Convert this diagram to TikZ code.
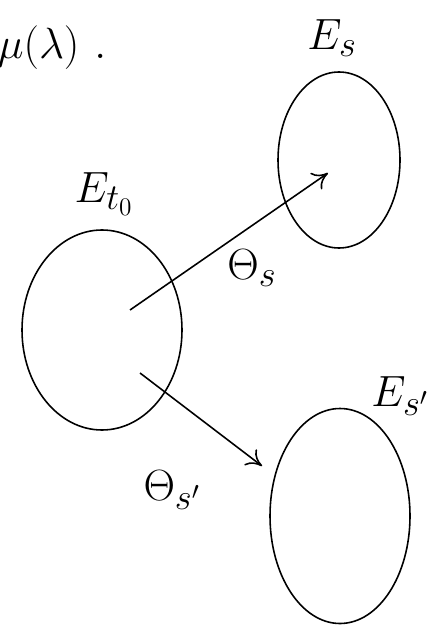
\documentclass[tikz,border=0pt]{standalone}
\usepackage{tikz}
\usetikzlibrary{shapes.geometric, arrows.meta}

\begin{document}
\begin{tikzpicture}[x=0.02cm, y=-0.02cm, line width=0.9pt,
        lbl/.style={font=\fontsize{28}{32}\selectfont},
        blob/.style={ellipse, draw, inner sep=0pt}]
            \useasboundingbox (0,0) rectangle (439,631);

            \node[lbl] (mu) at (52,48) {$\mu(\lambda)\ .$};
            \node[lbl] (Es) at (332,38) {$E_s$};
            \node[lbl] (Et0) at (104,194) {$E_{t_0}$};
            \node[lbl] (Essp) at (400,396) {$E_{s'}$};

            \node[blob, minimum width=122*0.02cm, minimum height=176*0.02cm] (0) at (339,160) {};
            \node[blob, minimum width=160*0.02cm, minimum height=200*0.02cm] (1) at (102,330) {};
            \node[blob, minimum width=140*0.02cm, minimum height=215*0.02cm] (2) at (340,516) {};

            \coordinate (a) at (130,310);
            \coordinate (b) at (328,173);
            \coordinate (c) at (140,373);
            \coordinate (d) at (262,466);

            \node[lbl] (ths) at (252,268) {$\Theta_s$};
            \node[lbl] (thsp) at (172,490) {$\Theta_{s'}$};

            \draw[-{To[length=3mm,width=4mm]}] (a) -- (b);
            \draw[-{To[length=3mm,width=4mm]}] (c) -- (d);
        \end{tikzpicture}
\end{document}
